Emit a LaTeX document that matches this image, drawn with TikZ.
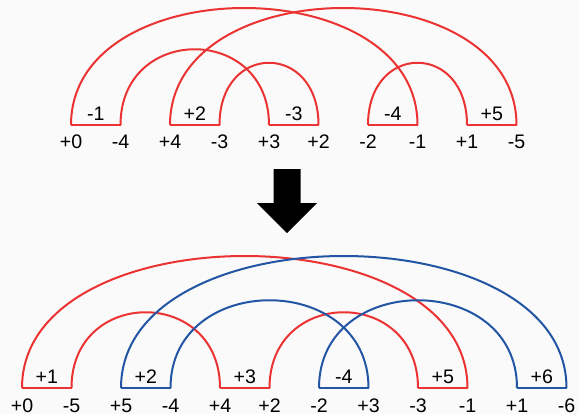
\documentclass[tikz,border=0pt]{standalone}
\usepackage{fontspec}
\setmainfont{Liberation Sans}
\usepackage{xcolor}
\usepackage{tikz}
\usetikzlibrary{arrows.meta, positioning, calc}
\definecolor{kertas}{RGB}{250, 250, 250}
\definecolor{adjred}{RGB}{235, 51, 51}
\definecolor{adjblue}{RGB}{35, 85, 165}

\begin{document}
\begin{tikzpicture}[
    x=0.5pt, y=0.5pt,
    font=\fontsize{9.8pt}{11pt}\selectfont,
    ujung/.style={anchor=base, inner sep=0pt},
    gen/.style={line width=1pt},
    genlab/.style={midway, anchor=base, yshift=2.5pt, inner sep=0pt, text=black},
    busur/.style={line width=1pt}
  ]
    % latar dan batas gambar (579 x 414)
    \useasboundingbox (0,0) rectangle (579,414);
    \fill[kertas] (0,0) rectangle (579,414);

    % baris atas: ujung-ujung gen
    \foreach \lab [count=\i from 0] in {+0,-4,+4,-3,+3,+2,-2,-1,+1,-5} {
      \coordinate (t\i) at ({71+49.5*\i},289);
      \node[ujung] (tl\i) at ({71+49.5*\i},266) {\lab};
    }
    \foreach \a/\b/\g in {0/1/-1, 2/3/+2, 4/5/-3, 6/7/-4, 8/9/+5} {
      \draw[gen, adjred] (t\a) -- (t\b) node[genlab] (tg\a) {\g};
    }
    \foreach \a/\b/\c in {0/7/156, 1/4/101, 2/9/156, 3/5/83, 6/8/83} {
      \draw[busur, adjred] (t\a) .. controls +(0,\c) and +(0,\c) .. (t\b);
    }

    % panah tebal ke bawah
    \fill[black] (273.5,245) -- (300.5,245) -- (300.5,211) -- (317,211)
      -- (287,181) -- (257,211) -- (273.5,211) -- cycle;

    % baris bawah
    \foreach \lab [count=\i from 0] in {+0,-5,+5,-4,+4,+2,-2,+3,-3,-1,+1,-6} {
      \coordinate (b\i) at ({22+49.5*\i},26);
      \node[ujung] (bl\i) at ({22+49.5*\i},2) {\lab};
    }
    \foreach \a/\b/\g/\w in {0/1/+1/adjred, 2/3/+2/adjblue, 4/5/+3/adjred,
                             6/7/-4/adjblue, 8/9/+5/adjred, 10/11/+6/adjblue} {
      \draw[gen, \w] (b\a) -- (b\b) node[genlab] (bg\a) {\g};
    }
    \foreach \a/\b/\c in {0/9/176, 1/4/101, 5/8/101} {
      \draw[busur, adjred] (b\a) .. controls +(0,\c) and +(0,\c) .. (b\b);
    }
    \foreach \a/\b/\c in {2/11/176, 3/7/117, 6/10/117} {
      \draw[busur, adjblue] (b\a) .. controls +(0,\c) and +(0,\c) .. (b\b);
    }
  \end{tikzpicture}
\end{document}
